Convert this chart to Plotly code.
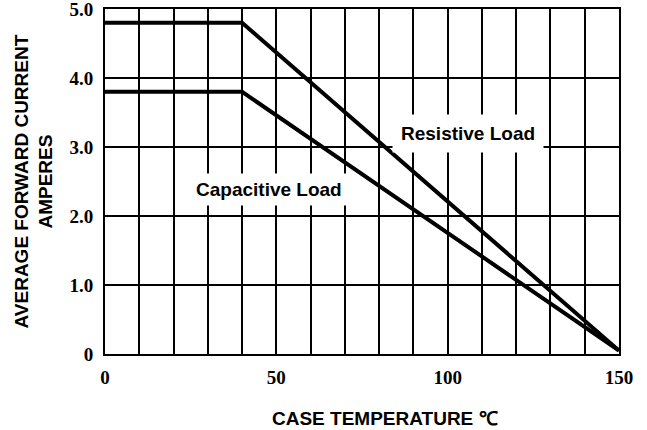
import plotly.graph_objects as go

# derating curve data
temp = [0, 40, 150]
resistive = [4.8, 4.8, 0.05]
capacitive = [3.8, 3.8, 0.05]

y_ticks = [0, 1, 2, 3, 4, 5]
y_labels = ["0", "1.0", "2.0", "3.0", "4.0", "5.0"]
x_ticks = [0, 50, 100, 150]
x_labels = ["0", "50", "100", "150"]

serif = "Liberation Serif"
sans = "Liberation Sans"

fig = go.Figure()

fig.add_trace(go.Scatter(x=temp, y=resistive, mode="lines",
                         line=dict(color="black", width=4), name="Resistive Load"))
fig.add_trace(go.Scatter(x=temp, y=capacitive, mode="lines",
                         line=dict(color="black", width=4), name="Capacitive Load"))

# curve labels with white boxes over the grid
fig.add_annotation(x=106, y=3.2, text="<b>Resistive Load</b>", showarrow=False,
                   font=dict(family=sans, size=19, color="black"),
                   bgcolor="white", borderpad=8)
fig.add_annotation(x=48, y=2.38, text="<b>Capacitive Load</b>", showarrow=False,
                   font=dict(family=sans, size=19, color="black"),
                   bgcolor="white", borderpad=5)

# axis titles
fig.add_annotation(xref="paper", yref="paper", x=0.545, y=0, yshift=-64,
                   xanchor="center", yanchor="middle", showarrow=False,
                   text="<b>CASE TEMPERATURE ℃</b>",
                   font=dict(family=sans, size=19, color="black"))
fig.add_annotation(xref="paper", yref="paper", x=0, xshift=-72, y=0.5,
                   xanchor="center", yanchor="middle", showarrow=False,
                   textangle=-90,
                   text="<b>AVERAGE FORWARD CURRENT<br>AMPERES</b>",
                   font=dict(family=sans, size=19, color="black"))

fig.update_layout(
    width=647, height=430,
    paper_bgcolor="white", plot_bgcolor="white",
    showlegend=False,
    margin=dict(l=105, r=28, t=9, b=76),
    xaxis=dict(
        range=[0, 150],
        tickvals=x_ticks, ticktext=x_labels,
        tickfont=dict(family=serif, size=19, color="black", weight="bold"),
        ticks="outside", ticklen=5, tickcolor="rgba(0,0,0,0)",
        ticklabeloverflow="allow",
        showgrid=True, gridcolor="black", gridwidth=2,
        minor=dict(dtick=10, showgrid=True, gridcolor="black", gridwidth=2),
        showline=True, linecolor="black", linewidth=2, mirror=True,
        zeroline=False, automargin=False,
    ),
    yaxis=dict(
        range=[0, 5],
        tickvals=y_ticks, ticktext=y_labels,
        tickfont=dict(family=serif, size=19, color="black", weight="bold"),
        ticks="outside", ticklen=6, tickcolor="rgba(0,0,0,0)",
        ticklabeloverflow="allow",
        showgrid=True, gridcolor="black", gridwidth=2,
        showline=True, linecolor="black", linewidth=2, mirror=True,
        zeroline=False, automargin=False,
    ),
)

fig.write_html("out.html", config={"displayModeBar": False},
               post_script="document.body.style.margin='0';")
